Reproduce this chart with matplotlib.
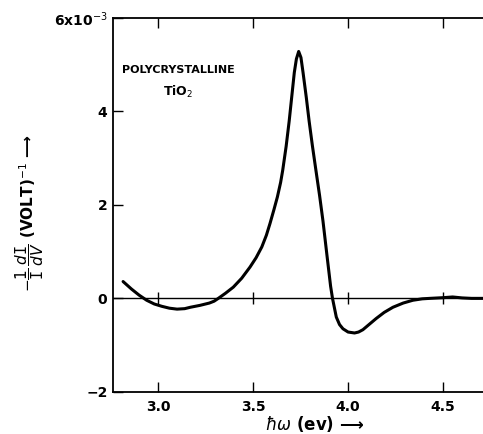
import matplotlib.pyplot as plt

# photon energy (eV) and -(1/I) dI/dV in units of 1e-3 per volt
energy = [2.816, 2.86, 2.9, 2.94, 2.98, 3.02, 3.06, 3.1, 3.14, 3.17, 3.22,
          3.27, 3.295, 3.317, 3.355, 3.396, 3.44, 3.484, 3.516, 3.546, 3.57,
          3.589, 3.61, 3.628, 3.645, 3.656, 3.674, 3.69, 3.704, 3.717, 3.728,
          3.74, 3.752, 3.763, 3.78, 3.795, 3.812, 3.83, 3.85, 3.868, 3.888,
          3.908, 3.918, 3.938, 3.955, 3.973, 4.0, 4.034, 4.055, 4.078, 4.11,
          4.148, 4.19, 4.236, 4.29, 4.341, 4.39, 4.429, 4.5, 4.55, 4.6, 4.65, 4.71]
signal = [0.36, 0.2, 0.07, -0.04, -0.12, -0.17, -0.21, -0.23, -0.22, -0.19, -0.15,
          -0.1, -0.06, 0.0, 0.11, 0.24, 0.43, 0.67, 0.87, 1.10, 1.35,
          1.60, 1.9, 2.17, 2.48, 2.74, 3.25, 3.79, 4.33, 4.83, 5.12,
          5.28, 5.15, 4.83, 4.3, 3.79, 3.27, 2.76, 2.2, 1.65, 0.95,
          0.26, 0.0, -0.4, -0.56, -0.65, -0.72, -0.74, -0.72, -0.67, -0.56,
          -0.43, -0.3, -0.19, -0.1, -0.04, -0.01, 0.0, 0.015, 0.03, 0.01, 0.0, 0.0]

xticks = [3.0, 3.5, 4.0, 4.5]
xlabels = ["3.0", "3.5", "4.0", "4.5"]
yticks = [-2, 0, 2, 4, 6]
ylabels = ["\u22122", "0", "2", "4", "6x10$^{-3}$"]

fig = plt.figure(figsize=(4.83, 4.34), dpi=100)
ax = fig.add_axes([0.234, 0.097, 0.766, 0.862])

ax.plot(energy, signal, color="black", lw=2.2, solid_capstyle="round",
        solid_joinstyle="round")
ax.axhline(0, color="black", lw=1.0)
# little crossing ticks on the zero line
ax.plot(xticks, [0] * len(xticks), ls="none", marker="|", ms=9, mew=1.0, color="black")

ax.set_xlim(2.763, 4.71)
ax.set_ylim(-2, 6)
ax.set_xticks(xticks)
ax.set_xticklabels(xlabels, fontsize=10, fontweight="bold")
ax.set_yticks(yticks)
ax.set_yticklabels(ylabels, fontsize=10, fontweight="bold")
ax.tick_params(axis="x", direction="in", top=True, length=7, width=1.0, pad=6)
ax.tick_params(axis="y", direction="in", length=7, width=1.0, pad=4)
ax.spines["right"].set_visible(False)
for s in ["left", "bottom", "top"]:
    ax.spines[s].set_linewidth(1.3)

ax.text(0.176, 0.861, "POLYCRYSTALLINE", transform=ax.transAxes, ha="center",
        va="center", fontsize=8, fontweight="bold")
ax.text(0.176, 0.802, "TiO$_2$", transform=ax.transAxes, ha="center",
        va="center", fontsize=9, fontweight="bold")

fig.text(0.652, 0.022, "$\\hbar\\omega$ (ev) \u27f6", ha="center", va="center",
         fontsize=12, fontweight="bold")
fig.text(0.062, 0.51,
         "$-\\dfrac{1}{\\mathtt{I}}\\,\\dfrac{d\\mathtt{I}}{dV}$ (VOLT)$^{-1}$ \u27f6",
         rotation=90, ha="center", va="center", fontsize=11, fontweight="bold")

fig.savefig("out.png", dpi=100)
